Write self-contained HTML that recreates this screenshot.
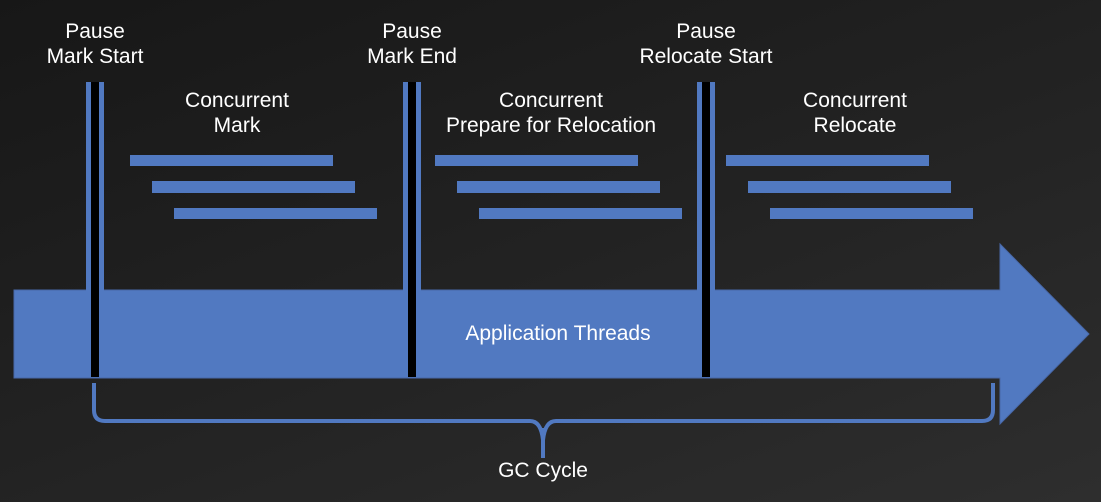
<!DOCTYPE html>
<html><head><style>
html,body{margin:0;padding:0;}
body{width:1101px;height:502px;overflow:hidden;background:linear-gradient(160deg,#171717 0%,#222 50%,#2e2e2e 100%);}
svg{display:block;}
svg text{font-family:"Liberation Sans",sans-serif;fill:#fff;font-size:21px;text-anchor:middle;}
</style></head><body>
<svg width="1101" height="502" viewBox="0 0 1101 502">
<g fill="#5179c1" stroke="#4868a8" stroke-width="1">
<path d="M14 290 H1000 V244 L1089 334 L1000 424 V378 H14 Z"/>
</g>
<g fill="#5179c1">
<rect x="86" y="82" width="6" height="210"/><rect x="98" y="82" width="6" height="210"/>
<rect x="403" y="82" width="6" height="210"/><rect x="415" y="82" width="6" height="210"/>
<rect x="697" y="82" width="6" height="210"/><rect x="709" y="82" width="6" height="210"/>
<rect x="130" y="155" width="203" height="11"/><rect x="152" y="181" width="203" height="12"/><rect x="174" y="208" width="203" height="11"/>
<rect x="435" y="155" width="203" height="11"/><rect x="457" y="181" width="203" height="12"/><rect x="479" y="208" width="203" height="11"/>
<rect x="726" y="155" width="203" height="11"/><rect x="748" y="181" width="203" height="12"/><rect x="770" y="208" width="203" height="11"/>
</g>
<g fill="#000">
<rect x="91" y="82" width="8" height="295"/>
<rect x="408" y="82" width="8" height="295"/>
<rect x="702" y="82" width="8" height="295"/>
</g>
<path d="M94 383 V410 Q94 421 105 421 H530 Q541 421 543 440 L543 458 M543 440 Q545 421 556 421 H982 Q993 421 993 410 V383" fill="none" stroke="#5179c1" stroke-width="4"/>
<path d="M539 428 Q543 436 543 458 Q543 436 547 428 Z" fill="#5179c1"/>
<text x="95" y="38">Pause</text><text x="95" y="63">Mark Start</text>
<text x="412" y="38">Pause</text><text x="412" y="63">Mark End</text>
<text x="706" y="38">Pause</text><text x="706" y="63">Relocate Start</text>
<text x="237" y="107">Concurrent</text><text x="237" y="132">Mark</text>
<text x="551" y="107">Concurrent</text><text x="551" y="132">Prepare for Relocation</text>
<text x="855" y="107">Concurrent</text><text x="855" y="132">Relocate</text>
<text x="558" y="340">Application Threads</text>
<text x="543" y="477">GC Cycle</text>
</svg>
</body></html>
